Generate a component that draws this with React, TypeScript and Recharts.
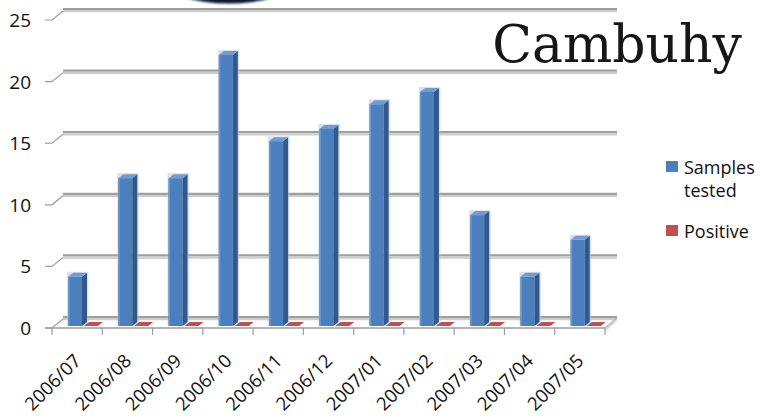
import React from 'react';
import { BarChart, Bar, XAxis, YAxis, CartesianGrid, Legend, Customized } from 'recharts';

// Monthly sample counts
const months = ['2006/07', '2006/08', '2006/09', '2006/10', '2006/11', '2006/12', '2007/01', '2007/02', '2007/03', '2007/04', '2007/05'];
const samplesTested = [4, 12, 12, 22, 15, 16, 18, 19, 9, 4, 7];
const positive = [0, 0, 0, 0, 0, 0, 0, 0, 0, 0, 0];
const yTicks = [0, 5, 10, 15, 20, 25];
const seriesNames = ['Samples tested', 'Positive'];
const titleText = 'Cambuhy';

const data = months.map((month, i) => ({ month, samples: samplesTested[i], positive: positive[i] }));

// Layout
const W = 760;
const H = 418;
const MARGIN = { top: 18, right: 155, bottom: 0, left: 0 };
const Y_AXIS_W = 52;
const X_AXIS_H = 92;
const PLOT_L = MARGIN.left + Y_AXIS_W;
const PLOT_R = W - MARGIN.right;
const PLOT_B = H - MARGIN.bottom - X_AXIS_H;
const BAND = (PLOT_R - PLOT_L) / months.length;

// Pseudo-3D offsets
const WALL_DX = 11; // back wall sits up and to the right of the front plane
const WALL_DY = 8;
const FRONT_DY = 2; // front edge of the floor
const BAR_DX = 5; // bar depth
const BAR_DY = 4;
const BAR_SHIFT = 6; // bars stand half-way into the floor

const BLUE = { front: '#4b7fbd', side: '#33588a', top: '#6f9cd4', edge: '#6a98d0', halo: '#b8c9e2' };
const RED = { front: '#c0504d', side: '#8e3532', top: '#cf6c69', edge: '#d58a88', halo: '#e6c0bf' };
const SANS = '"Open Sans", "Noto Sans", sans-serif';
const SERIF = '"DejaVu Serif", "Liberation Serif", serif';
const AXIS_GREY = '#9c9c9c';

type Palette = typeof BLUE;

function makeBarShape(c: Palette) {
  return (props: any) => {
    const { x, y, width, height } = props;
    if (x == null || y == null) return <g />;
    const h = Math.max(0, height || 0);
    const x0 = x + BAR_SHIFT;
    const top = y;
    const bot = y + h;
    return (
      <g>
        {h > 0 && (
          <rect
            x={x0 - 1}
            y={top - BAR_DY - 1}
            width={width + BAR_DX + 2.5}
            height={h + BAR_DY + 1}
            fill={c.halo}
            opacity={0.55}
          />
        )}
        {h > 0 && <rect x={x0} y={top} width={width} height={h} fill={c.front} />}
        {h > 0 && <rect x={x0} y={top} width={1.5} height={h} fill={c.edge} />}
        {h > 0 && (
          <polygon
            points={`${x0 + width},${top} ${x0 + width + BAR_DX},${top - BAR_DY} ${x0 + width + BAR_DX},${bot - BAR_DY} ${x0 + width},${bot}`}
            fill={c.side}
          />
        )}
        <polygon
          points={`${x0},${top} ${x0 + BAR_DX},${top - BAR_DY} ${x0 + width + BAR_DX},${top - BAR_DY} ${x0 + width},${top}`}
          fill={h > 0 ? c.top : c.front}
        />
      </g>
    );
  };
}

const blueShape = makeBarShape(BLUE);
const redShape = makeBarShape(RED);

function gridLine(props: any) {
  const { y1, index } = props;
  const x1 = PLOT_L + WALL_DX;
  const x2 = PLOT_R + 12;
  return (
    <g key={`grid-${index}`}>
      <line x1={x1} x2={x2} y1={y1 - WALL_DY - 1} y2={y1 - WALL_DY - 1} stroke="#9e9e9e" strokeWidth={2.2} />
      <line x1={x1} x2={x2} y1={y1 - WALL_DY + 1.2} y2={y1 - WALL_DY + 1.2} stroke="#cdcdcd" strokeWidth={2.2} />
    </g>
  );
}

function YTick(props: any) {
  const { y, payload } = props;
  const fy = y + FRONT_DY;
  return (
    <g>
      <path d={`M45,${fy} L${PLOT_L},${fy} L${PLOT_L + WALL_DX},${y - WALL_DY + 1}`} stroke={AXIS_GREY} strokeWidth={1.2} fill="none" />
      <text x={31} y={fy} textAnchor="end" dominantBaseline="central" fontSize={19} fontFamily={SANS} fill="#111">
        {payload.value}
      </text>
    </g>
  );
}

function XTick(props: any) {
  const { x, payload, index } = props;
  const left = x - BAND / 2;
  const ax = x + 5;
  const ay = 362;
  return (
    <g>
      <line x1={left} x2={left} y1={PLOT_B + FRONT_DY} y2={PLOT_B + FRONT_DY + 7} stroke={AXIS_GREY} strokeWidth={1.2} />
      {index === months.length - 1 && (
        <line x1={x + BAND / 2} x2={x + BAND / 2} y1={PLOT_B + FRONT_DY} y2={PLOT_B + FRONT_DY + 7} stroke={AXIS_GREY} strokeWidth={1.2} />
      )}
      <text
        x={ax}
        y={ay}
        textAnchor="end"
        transform={`rotate(-45, ${ax}, ${ay})`}
        fontSize={18.5}
        fontFamily={SANS}
        fill="#111"
      >
        {payload.value}
      </text>
    </g>
  );
}

// Floor slab under the bars
function Floor() {
  const fy = PLOT_B + FRONT_DY;
  const by = PLOT_B - WALL_DY;
  return (
    <g>
      <polygon points={`${PLOT_R},${fy} ${PLOT_R + 12},${by} ${PLOT_R + 12},${by + 3} ${PLOT_R + 1},${fy + 3}`} fill="#dcdcdc" />
      <line x1={45} x2={PLOT_R} y1={fy} y2={fy} stroke={AXIS_GREY} strokeWidth={1.5} />
      <line x1={PLOT_R} x2={PLOT_R + 12} y1={fy} y2={by} stroke="#b4b4b4" strokeWidth={1.2} />
    </g>
  );
}

function Overlay() {
  return (
    <g>
      <defs>
        <filter id="soft" x="-20%" y="-20%" width="140%" height="140%">
          <feGaussianBlur stdDeviation="0.8" />
        </filter>
      </defs>
      <ellipse cx={229} cy={-17} rx={62} ry={20.5} fill="#0b1631" filter="url(#soft)" />
      <text x={617} y={62} textAnchor="middle" fontSize={52} fontFamily={SERIF} fill="#161616">
        {titleText}
      </text>
    </g>
  );
}

function LegendContent(props: any) {
  const items = ((props.payload || []) as any[])
    .slice()
    .sort((a, b) => seriesNames.indexOf(a.value) - seriesNames.indexOf(b.value));
  return (
    <div style={{ fontFamily: SANS, fontSize: 18, color: '#111' }}>
      {items.map((item, i) => (
        <div key={item.value} style={{ display: 'flex', alignItems: 'flex-start', marginTop: i === 0 ? 0 : 18 }}>
          <div style={{ width: 12, height: 11, marginTop: 5, marginRight: 6, background: item.color, flex: 'none' }} />
          <div style={{ lineHeight: '23px', width: 76 }}>{item.value}</div>
        </div>
      ))}
    </div>
  );
}

export default function App() {
  return (
    <div style={{ position: 'absolute', left: 0, top: 0, width: W, height: H, background: '#fff', overflow: 'hidden' }}>
      <BarChart width={W} height={H} data={data} margin={MARGIN} barSize={14} barGap={2}>
        <CartesianGrid vertical={false} horizontal={gridLine} />
        <Customized component={<Floor />} />
        <YAxis
          type="number"
          domain={[0, 25]}
          ticks={yTicks}
          width={Y_AXIS_W}
          axisLine={false}
          tickLine={false}
          tick={<YTick />}
          interval={0}
        />
        <XAxis dataKey="month" height={X_AXIS_H} axisLine={false} tickLine={false} interval={0} tick={<XTick />} />
        <Bar dataKey="samples" name={seriesNames[0]} fill={BLUE.front} shape={blueShape} isAnimationActive={false} />
        <Bar dataKey="positive" name={seriesNames[1]} fill={RED.front} shape={redShape} isAnimationActive={false} />
        <Customized component={<Overlay />} />
        <Legend
          layout="vertical"
          align="center"
          verticalAlign="middle"
          content={<LegendContent />}
          wrapperStyle={{ left: 666, top: 156, width: 94, margin: 0 }}
        />
      </BarChart>
    </div>
  );
}
